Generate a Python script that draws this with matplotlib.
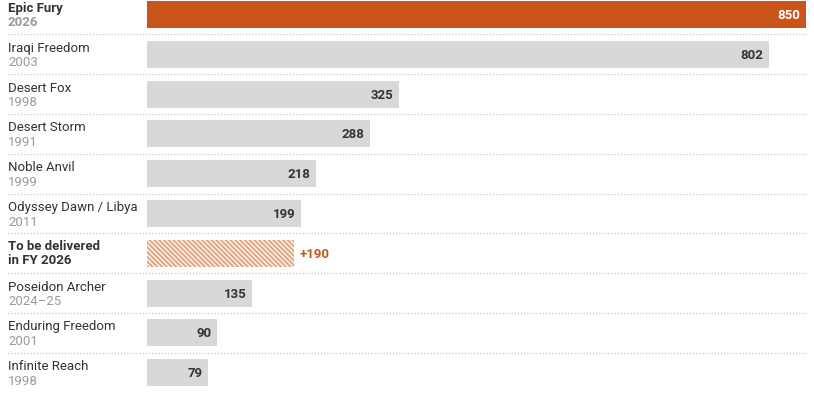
import matplotlib
matplotlib.use("Agg")
import matplotlib.pyplot as plt
from matplotlib.lines import Line2D

names = ["Epic Fury", "Iraqi Freedom", "Desert Fox", "Desert Storm", "Noble Anvil",
         "Odyssey Dawn / Libya", "To be delivered\nin FY 2026", "Poseidon Archer",
         "Enduring Freedom", "Infinite Reach"]
years = ["2026", "2003", "1998", "1991", "1999", "2011", "", "2024–25", "2001", "1998"]
values = [850, 802, 325, 288, 218, 199, 190, 135, 90, 79]
kinds = ["highlight", "normal", "normal", "normal", "normal", "normal", "future",
         "normal", "normal", "normal"]

ORANGE = "#C9551A"
GRAY = "#D8D8D9"
HATCH = "#E0A47F"
DARK = "#333333"
YEARC = "#9A9A9A"

plt.rcParams['font.family'] = ['Roboto', 'DejaVu Sans']
plt.rcParams['hatch.linewidth'] = 1.3

W, H = 814, 393
fig = plt.figure(figsize=(W/100, H/100), dpi=100)
x0, x1 = 147, 806
ax = fig.add_axes([x0/W, 0, (x1-x0)/W, 1])
ax.set_xlim(0, 850)
ax.set_ylim(H, 0)
ax.axis("off")

pitch = 39.8
top = 14.5
bh = 27
for i, (n, y, v, k) in enumerate(zip(names, years, values, kinds)):
    yc = top + pitch*i
    if k == "highlight":
        ax.barh(yc, v, height=bh, color=ORANGE, linewidth=0)
        ax.text(v - 7, yc + 1, str(v), ha="right", va="center", color="white",
                fontsize=9.5, fontweight="bold")
    elif k == "future":
        ax.barh(yc, v, height=bh, color="#FBF1EA", edgecolor=HATCH,
                hatch="\\" * 7, linewidth=0)
        ax.text(v + 7, yc + 1, "+" + str(v), ha="left", va="center", color=ORANGE,
                fontsize=9.5, fontweight="bold")
    else:
        ax.barh(yc, v, height=bh, color=GRAY, linewidth=0)
        ax.text(v - 7, yc + 1, str(v), ha="right", va="center", color=DARK,
                fontsize=9.5, fontweight="bold")
    if k == "future":
        fig.text(8/W, 1 - yc/H, n, ha="left", va="center", color=DARK, fontsize=9.5,
                 fontweight="bold", linespacing=1.15)
    else:
        bold = "bold" if k == "highlight" else "normal"
        fig.text(8/W, 1 - (yc - 6)/H, n, ha="left", va="center", color=DARK,
                 fontsize=9.5, fontweight=bold)
        fig.text(8/W, 1 - (yc + 8.5)/H, y, ha="left", va="center", color=YEARC,
                 fontsize=9.5, fontweight=bold)
    if i < len(names) - 1:
        sy = 1 - (yc + pitch/2)/H
        fig.add_artist(Line2D([8/W, x1/W], [sy, sy], color="#C8C8C8",
                              linewidth=0.9, linestyle=(0, (1, 1.5))))

fig.savefig("out.png", dpi=100)
